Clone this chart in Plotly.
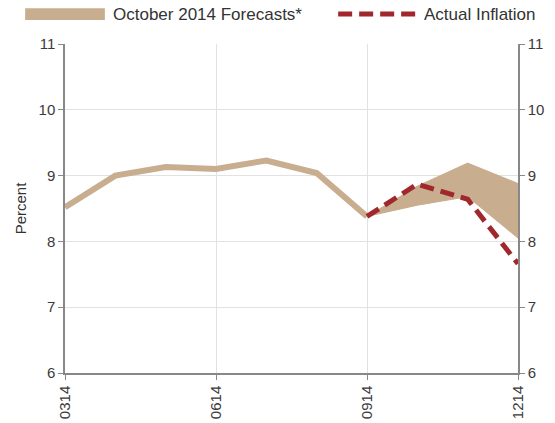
import plotly.graph_objects as go

months = ["0314", "0414", "0514", "0614", "0714", "0814", "0914", "1014", "1114", "1214"]
history = [8.52, 9.0, 9.13, 9.10, 9.23, 9.04, 8.38]          # 0314..0914
actual_months = ["0914", "1014", "1114", "1214"]
actual = [8.38, 8.87, 8.64, 7.66]
forecast_months = ["0914", "1014", "1114", "1214"]
forecast_upper = [8.38, 8.84, 9.19, 8.88]
forecast_lower = [8.38, 8.55, 8.68, 8.05]
tick_labels = ["0314", "0614", "0914", "1214"]

TAN = "#C8AD8E"
RED = "#A0282C"
FONT = "Liberation Sans, Arial, sans-serif"
DASH = "14px,7px"

fig = go.Figure()

# forecast band (polygon)
fig.add_trace(go.Scatter(
    x=forecast_months + forecast_months[::-1],
    y=forecast_upper + forecast_lower[::-1],
    fill="toself", fillcolor=TAN, mode="lines",
    line=dict(color=TAN, width=1), showlegend=False, hoverinfo="skip"))

# history line
fig.add_trace(go.Scatter(
    x=months[:len(history)], y=history, mode="lines",
    line=dict(color=TAN, width=6), showlegend=False))

# actual inflation
fig.add_trace(go.Scatter(
    x=actual_months, y=actual, mode="lines",
    line=dict(color=RED, width=5, dash=DASH), showlegend=False))

# dummy trace for right axis
fig.add_trace(go.Scatter(x=[months[0]], y=[6], yaxis="y2", mode="markers",
                         marker=dict(opacity=0), showlegend=False, hoverinfo="skip"))

axis_font = dict(family=FONT, size=15, color="#3a3a3a")

fig.update_layout(
    width=555, height=423,
    margin=dict(l=65, r=37, t=44, b=50, autoexpand=False),
    plot_bgcolor="white", paper_bgcolor="white",
    font=dict(family=FONT, color="#333"),
    xaxis=dict(type="category", categoryarray=months, range=[0, 9],
               tickvals=tick_labels, ticktext=tick_labels, tickangle=-90,
               tickfont=axis_font, showgrid=True, gridcolor="#e2e2e2",
               showline=True, linecolor="#888", linewidth=1.5,
               ticks="outside", ticklen=5, tickcolor="#888", zeroline=False,
               automargin=False),
    yaxis=dict(range=[6, 11], dtick=1, tickfont=axis_font,
               showgrid=True, gridcolor="#e2e2e2", showline=True,
               linecolor="#888", linewidth=1.5, ticks="outside", ticklen=5,
               tickcolor="#888", zeroline=False, automargin=False,
               title=dict(text="Percent", font=dict(family=FONT, size=15, color="#333"),
                          standoff=8)),
    yaxis2=dict(range=[6, 11], dtick=1, overlaying="y", side="right",
                tickfont=axis_font, showgrid=False, showline=True,
                linecolor="#888", linewidth=1.5, ticks="outside", ticklen=5,
                tickcolor="#888", zeroline=False, automargin=False),
    showlegend=False,
)

# manual legend
fig.add_shape(type="rect", xref="paper", yref="paper",
              x0=-0.088, x1=0.088, y0=1.073, y1=1.109,
              fillcolor=TAN, line=dict(width=0))
fig.add_annotation(xref="paper", yref="paper", x=0.102, y=1.091,
                   text="October 2014 Forecasts*", showarrow=False,
                   xanchor="left", yanchor="middle",
                   font=dict(family=FONT, size=17, color="#333"))
fig.add_shape(type="line", xref="paper", yref="paper",
              x0=0.603, x1=0.777, y0=1.091, y1=1.091,
              line=dict(color=RED, width=5, dash=DASH))
fig.add_annotation(xref="paper", yref="paper", x=0.788, y=1.091,
                   text="Actual Inflation", showarrow=False,
                   xanchor="left", yanchor="middle",
                   font=dict(family=FONT, size=17, color="#333"))

fig.write_html("out.html", config={"displayModeBar": False},
               post_script="document.body.style.margin='0';")
